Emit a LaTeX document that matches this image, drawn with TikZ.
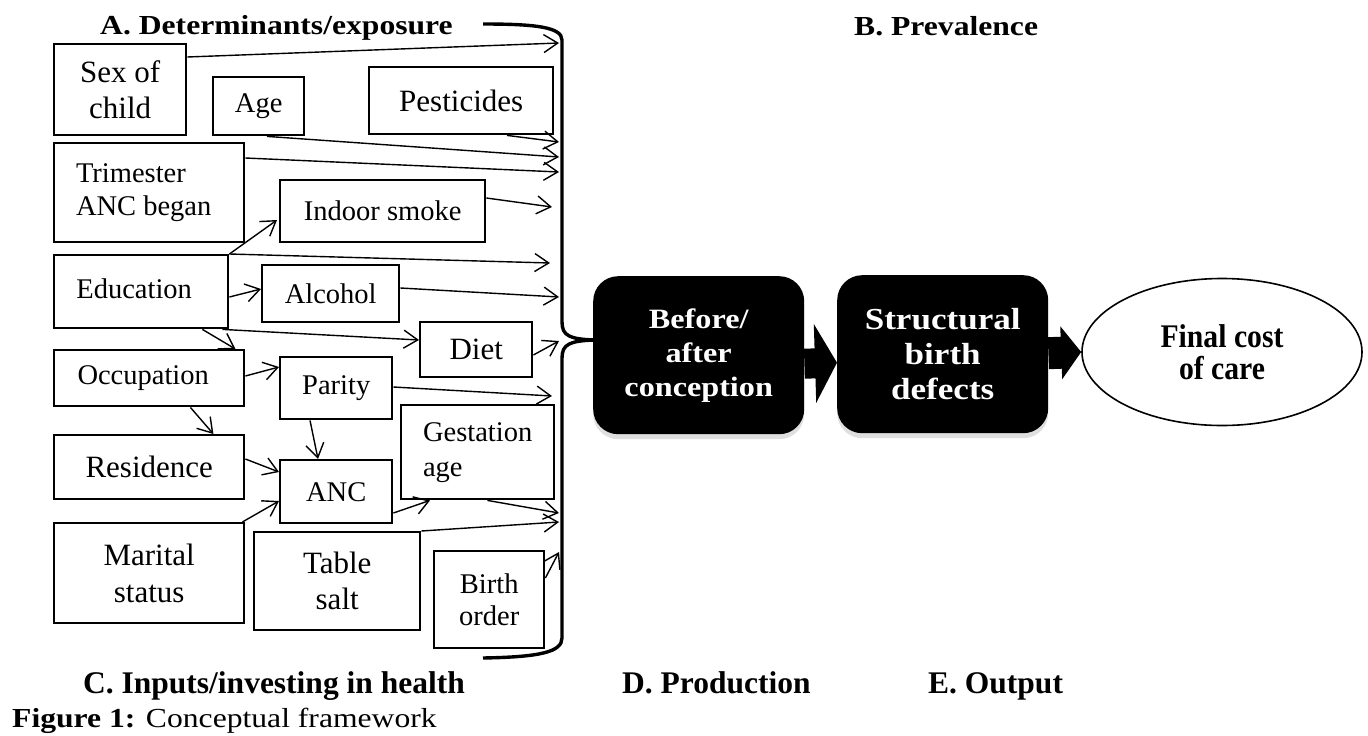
\documentclass[tikz,border=0pt]{standalone}
\usepackage{fontspec}
\setmainfont{Liberation Serif}
\newfontfamily\wideserif[FakeStretch=1.15]{Liberation Serif}
\newfontfamily\narrowserif[FakeStretch=0.9]{Liberation Serif}
\usetikzlibrary{arrows.meta,shapes.geometric,calc,shadows}
\tikzset{
  box/.style={draw, line width=2.4pt, anchor=north west, inner sep=0pt, align=center,
    font=\fontsize{28.5}{34}\selectfont},
  bigtxt/.style={font=\fontsize{31}{36}\selectfont},
  con/.style={line width=1.4pt, -{Straight Barb[length=14pt,width=18pt]}},
  blk/.style={fill=black, rounded corners=25pt, minimum width=211pt, minimum height=158pt,
    anchor=north west, text=white, align=center, inner sep=0pt,
    drop shadow={opacity=0.25, shadow xshift=0pt, shadow yshift=-5pt}},
  fat/.style={black},
  ttl/.style={anchor=base west, inner sep=0pt, font=\bfseries\fontsize{31.5}{36}\selectfont},
  ttlw/.style={anchor=base west, inner sep=0pt, font=\wideserif\bfseries\fontsize{27.5}{32}\selectfont},
  brace/.style={line width=3.4pt}
}
\begin{document}
\begin{tikzpicture}[x=1pt, y=-1pt]
\useasboundingbox (0,0) rectangle (1368,736);

% titles
\node[ttlw] (tA) at (100,34) {A. Determinants/exposure};
\node[ttlw] (tB) at (854,35) {B. Prevalence};
\node[ttl] (tC) at (83,693) {C. Inputs/investing in health};
\node[ttl] (tD) at (622,693) {D. Production};
\node[ttl] (tE) at (928,693) {E. Output};
\node[anchor=base west, inner sep=0pt, font=\wideserif\fontsize{27.5}{32}\selectfont] (fig) at (12,727) {\textbf{Figure 1:} Conceptual framework};

% boxes
\node[box, bigtxt, minimum width=132pt, minimum height=91pt] (sex) at (53,43) {Sex of\\child};
\node[box, minimum width=91pt, minimum height=58pt] (age) at (212,76) {Age};
\node[box, bigtxt, minimum width=184pt, minimum height=67pt] (pest) at (368,66) {Pesticides};
\node[box, align=left, minimum width=190pt, minimum height=99pt, font=\fontsize{28.5}{33}\selectfont] (tri) at (53,142) {Trimester\\ANC began\hspace*{11pt}};
\node[box, minimum width=205pt, minimum height=62pt] (smoke) at (279,179) {Indoor smoke};
\node[box, minimum width=174pt, minimum height=73pt] (edu) at (53,254) {\raisebox{7pt}{Education}\hspace*{14pt}};
\node[box, minimum width=137pt, minimum height=57pt] (alc) at (261,264) {Alcohol};
\node[box, bigtxt, minimum width=112pt, minimum height=55pt] (diet) at (419,321) {Diet};
\node[box, minimum width=190pt, minimum height=56pt] (occ) at (53,349) {Occupation\hspace*{12pt}};
\node[box, minimum width=112pt, minimum height=62pt] (par) at (279,356) {Parity};
\node[box, align=left, minimum width=153pt, minimum height=94pt, font=\fontsize{28.5}{35}\selectfont] (gest) at (400,404) {Gestation\\age};
\node[box, bigtxt, minimum width=190pt, minimum height=64pt] (res) at (53,434) {Residence};
\node[box, minimum width=112pt, minimum height=63pt] (anc) at (279,459) {ANC};
\node[box, bigtxt, minimum width=190pt, minimum height=100pt, font=\fontsize{31}{37}\selectfont] (mar) at (53,522) {Marital\\status};
\node[box, bigtxt, minimum width=166pt, minimum height=98pt] (salt) at (253,531) {Table\\salt};
\node[box, minimum width=110pt, minimum height=97pt, font=\fontsize{28.5}{32}\selectfont] (birth) at (433,550) {Birth\\order};

% bracket
\draw[brace] (483,24) .. controls (535,24) and (562,27) .. (562,40)
  -- (562,322) .. controls (562,336) and (570,339) .. (594,340)
  .. controls (570,341) and (562,344) .. (562,358)
  -- (562,638) .. controls (562,652) and (540,657) .. (483,658);

% arrow ends at the bracket
\coordinate (e1) at (559,43);
\coordinate (e2) at (559,142);
\coordinate (e3) at (559,157);
\coordinate (e4) at (559,172);
\coordinate (e5) at (552,207);
\coordinate (e6) at (550,263);
\coordinate (e7) at (559,297);
\coordinate (e8) at (559,341);
\coordinate (e9) at (552,396);
\coordinate (e10) at (559,513);
\coordinate (e11) at (559,522);
\coordinate (e12) at (559,552);

% connectors
\draw[con] ([yshift=-14pt]sex.north east) -- (e1);
\draw[con] ([xshift=139pt]pest.south west) -- (e2);
\draw[con] ([xshift=55pt]age.south west) -- (e3);
\draw[con] ([yshift=-16pt]tri.north east) -- (e4);
\draw[con] ([yshift=-19pt]smoke.north east) -- (e5);
\draw[con] (edu.north east) -- ([xshift=-2pt,yshift=-41pt]smoke.north west);
\draw[con] (edu.north east) -- (e6);
\draw[con] ([yshift=-43pt]edu.north east) -- ([yshift=-25pt]alc.north west);
\draw[con] ([yshift=-24pt]alc.north east) -- (e7);
\draw[con] ([xshift=-7pt]edu.south east) -- ([yshift=-19pt]diet.north west);
\draw[con] ([yshift=-34pt]diet.north east) -- (e8);
\draw[con] ([xshift=-27pt]edu.south east) -- ([xshift=-10pt]occ.north east);
\draw[con] ([yshift=-27pt]occ.north east) -- ([yshift=-11pt]par.north west);
\draw[con] ([xshift=-55pt]occ.south east) -- ([xshift=-32pt]res.north east);
\draw[con] ([yshift=-31pt]par.north east) -- (e9);
\draw[con] ([xshift=31pt]par.south west) -- ([xshift=39pt]anc.north west);
\draw[con] ([yshift=-25pt]res.north east) -- ([yshift=-13pt]anc.north west);
\draw[con] ([xshift=-3pt]mar.north east) -- ([yshift=-42pt]anc.north west);
\draw[con] ([yshift=-54pt]anc.north east) -- ([xshift=30pt]gest.south west);
\draw[con] ([xshift=-68pt]gest.south east) -- (e10);
\draw[con] (salt.north east) -- (e11);
\draw[con] ([yshift=-28pt]birth.north east) -- (e12);

% production / output
\node[blk, font=\wideserif\bfseries\fontsize{28}{34}\selectfont] (before) at (593,276) {Before/\\after\\conception};
\node[blk, font=\wideserif\bfseries\fontsize{30.5}{35}\selectfont] (struct) at (837,275) {Structural\\birth\\defects};
\node[draw, ellipse, line width=1.6pt, minimum width=280pt, minimum height=147pt, align=center,
  inner sep=0pt, font=\narrowserif\bfseries\fontsize{33}{32}\selectfont] (fin) at (1222,352) {Final cost\\of care};

\draw[fat, line width=30pt, -{Triangle[length=22pt,width=78pt]}] ([yshift=-8.5pt]before.east) -- ([yshift=-8.5pt]struct.west);
\draw[fat, line width=32pt, -{Triangle[length=20pt,width=52pt]}] ([yshift=1pt]struct.east) -- (fin.west);
\end{tikzpicture}
\end{document}
